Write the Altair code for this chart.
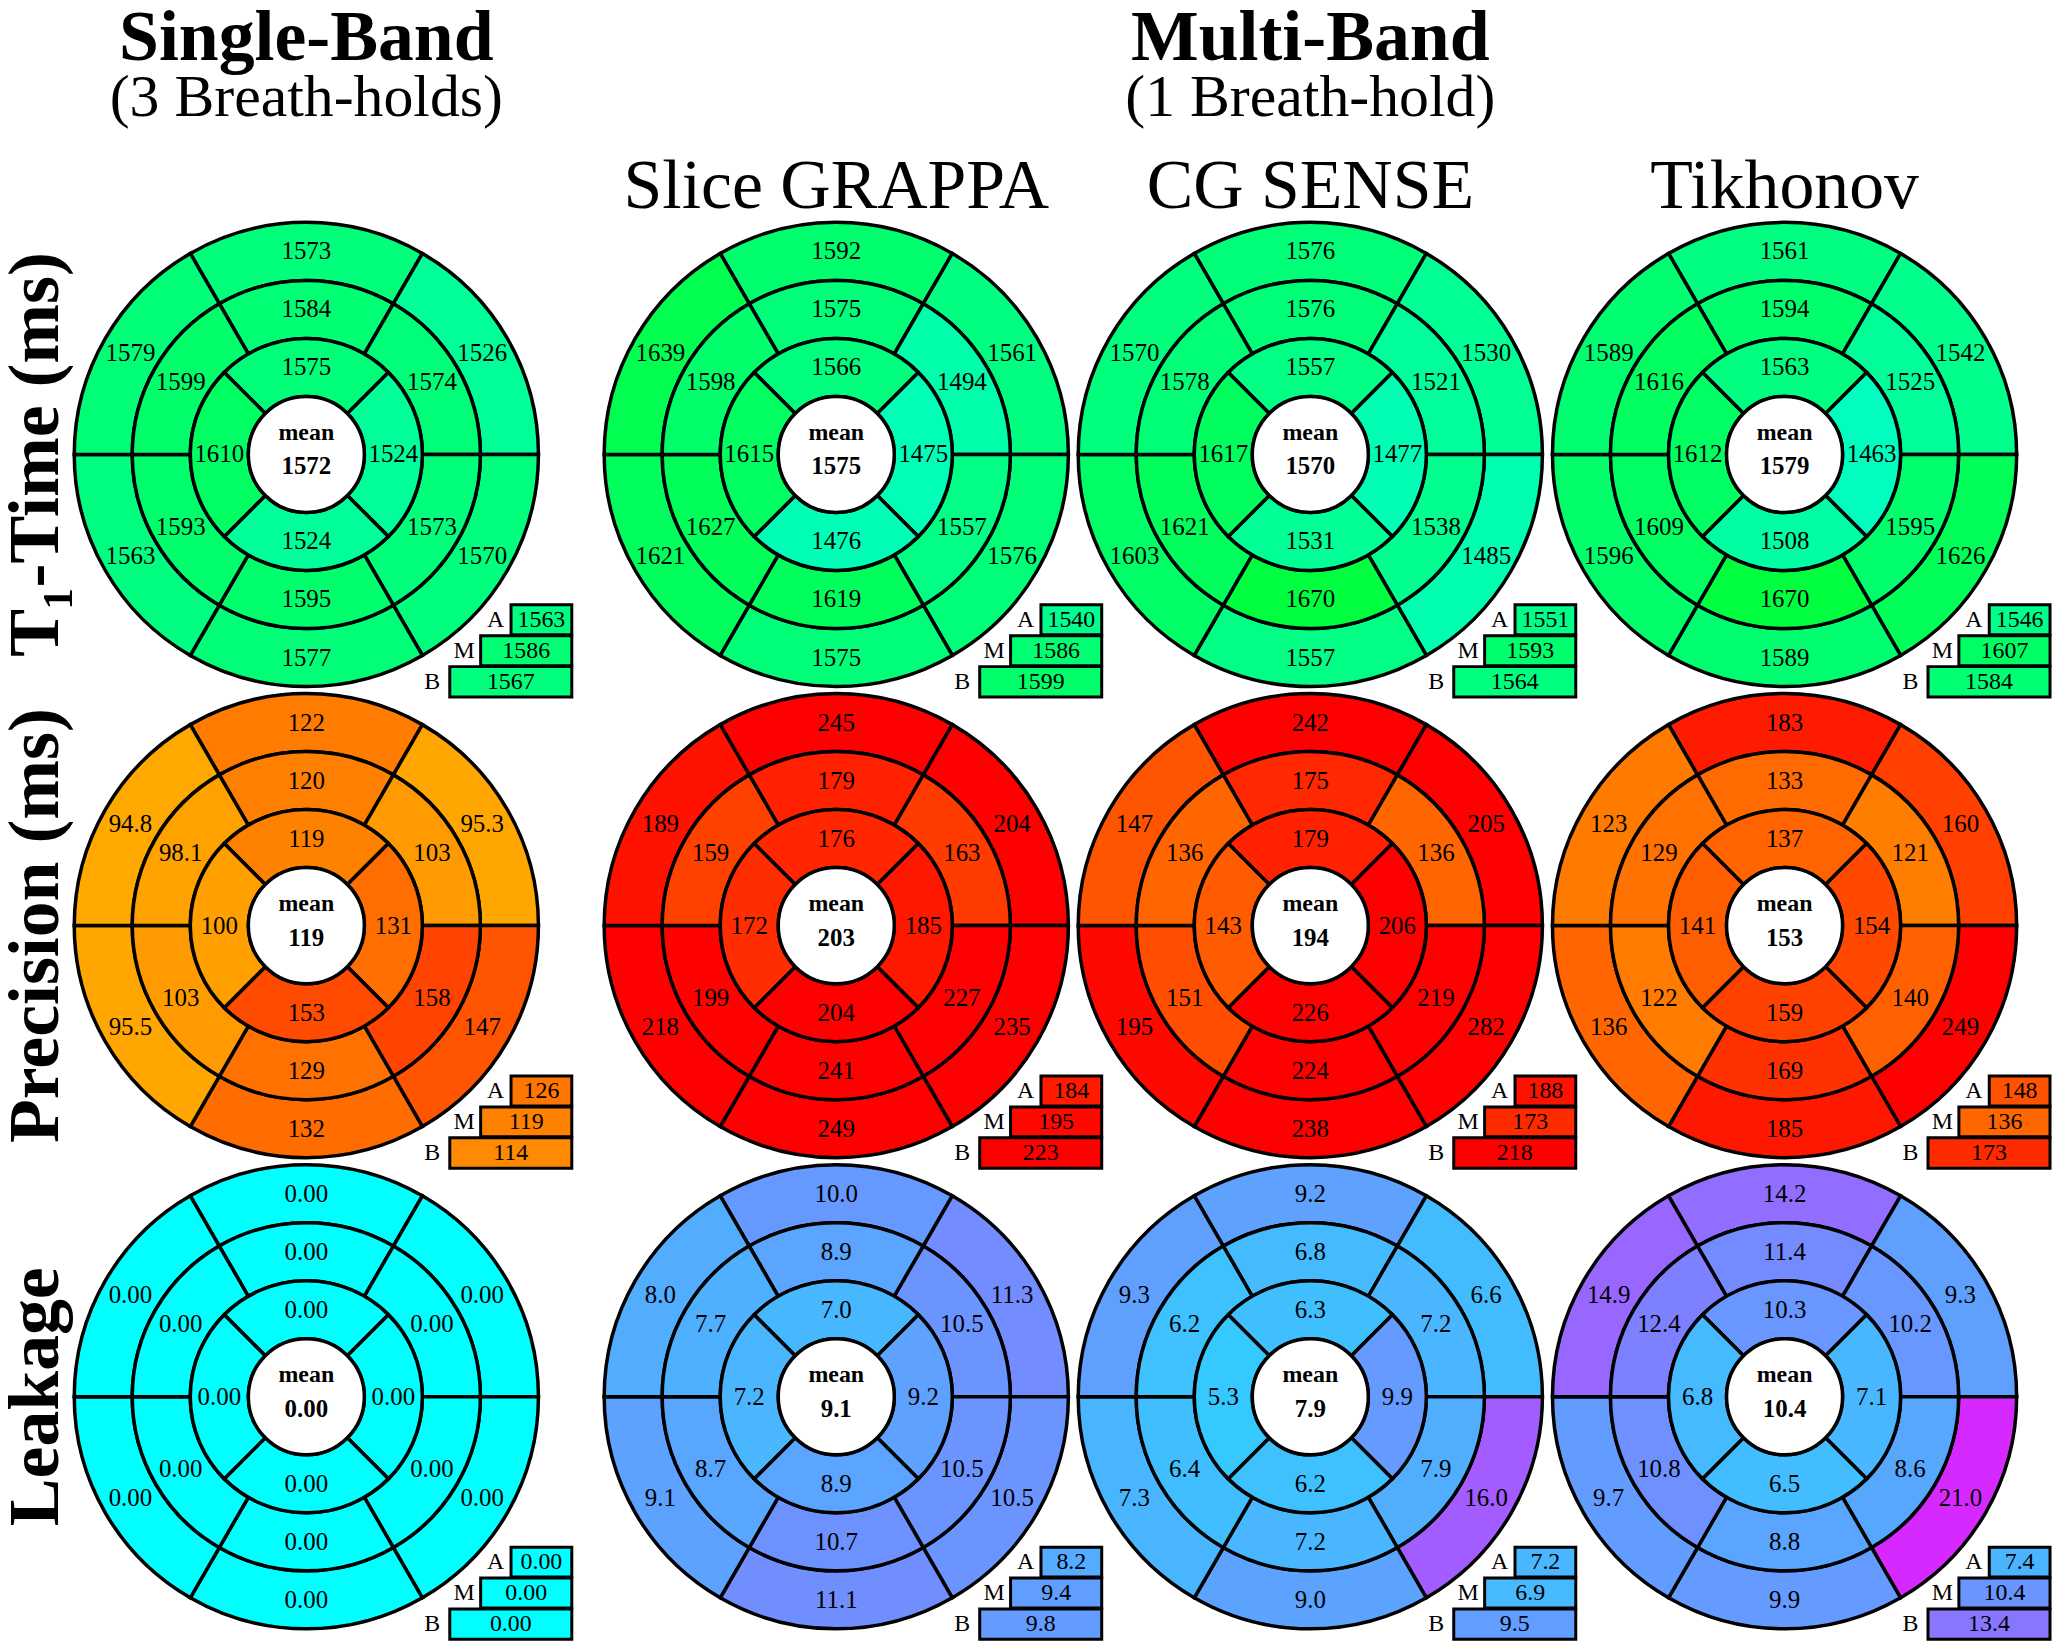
import altair as alt
import pandas as pd

# ---------------- data ----------------
METHODS = ["Single-Band", "Slice GRAPPA", "CG SENSE", "Tikhonov"]
METRICS = ["T\u2081-Time (ms)", "Precision (ms)", "Leakage"]
BOX_LETTERS = ["A", "M", "B"]

# segment order (clockwise from top): basal/mid = top, upper-right, lower-right, bottom, lower-left, upper-left
# apical = top, right, bottom, left
t1_basal = [
    [1573, 1526, 1570, 1577, 1563, 1579],
    [1592, 1561, 1576, 1575, 1621, 1639],
    [1576, 1530, 1485, 1557, 1603, 1570],
    [1561, 1542, 1626, 1589, 1596, 1589],
]
t1_mid = [
    [1584, 1574, 1573, 1595, 1593, 1599],
    [1575, 1494, 1557, 1619, 1627, 1598],
    [1576, 1521, 1538, 1670, 1621, 1578],
    [1594, 1525, 1595, 1670, 1609, 1616],
]
t1_apical = [
    [1575, 1524, 1524, 1610],
    [1566, 1475, 1476, 1615],
    [1557, 1477, 1531, 1617],
    [1563, 1463, 1508, 1612],
]
t1_mean = [1572, 1575, 1570, 1579]
t1_amb = [[1563, 1586, 1567], [1540, 1586, 1599], [1551, 1593, 1564], [1546, 1607, 1584]]

prec_basal = [
    [122, 95.3, 147, 132, 95.5, 94.8],
    [245, 204, 235, 249, 218, 189],
    [242, 205, 282, 238, 195, 147],
    [183, 160, 249, 185, 136, 123],
]
prec_mid = [
    [120, 103, 158, 129, 103, 98.1],
    [179, 163, 227, 241, 199, 159],
    [175, 136, 219, 224, 151, 136],
    [133, 121, 140, 169, 122, 129],
]
prec_apical = [
    [119, 131, 153, 100],
    [176, 185, 204, 172],
    [179, 206, 226, 143],
    [137, 154, 159, 141],
]
prec_mean = [119, 203, 194, 153]
prec_amb = [[126, 119, 114], [184, 195, 223], [188, 173, 218], [148, 136, 173]]

leak_basal = [
    [0, 0, 0, 0, 0, 0],
    [10.0, 11.3, 10.5, 11.1, 9.1, 8.0],
    [9.2, 6.6, 16.0, 9.0, 7.3, 9.3],
    [14.2, 9.3, 21.0, 9.9, 9.7, 14.9],
]
leak_mid = [
    [0, 0, 0, 0, 0, 0],
    [8.9, 10.5, 10.5, 10.7, 8.7, 7.7],
    [6.8, 7.2, 7.9, 7.2, 6.4, 6.2],
    [11.4, 10.2, 8.6, 8.8, 10.8, 12.4],
]
leak_apical = [
    [0, 0, 0, 0],
    [7.0, 9.2, 8.9, 7.2],
    [6.3, 9.9, 6.2, 5.3],
    [10.3, 7.1, 6.5, 6.8],
]
leak_mean = [0.0, 9.1, 7.9, 10.4]
leak_amb = [[0, 0, 0], [8.2, 9.4, 9.8], [7.2, 6.9, 9.5], [7.4, 10.4, 13.4]]

BASAL = [t1_basal, prec_basal, leak_basal]
MID = [t1_mid, prec_mid, leak_mid]
APICAL = [t1_apical, prec_apical, leak_apical]
MEANS = [t1_mean, prec_mean, leak_mean]
AMB = [t1_amb, prec_amb, leak_amb]


def fmt(m, v):
    if m == 0:
        return f"{v:.0f}"
    if m == 1:
        return f"{v:.3g}"
    return "0.00" if v == 0 else f"{v:.1f}"


seg_rows, panel_rows, box_rows = [], [], []
for m in range(3):
    for c in range(4):
        for ring, vals in ((2, BASAL[m][c]), (1, MID[m][c]), (0, APICAL[m][c])):
            n = len(vals)
            step = 360.0 / n
            for k, v in enumerate(vals):
                seg_rows.append(dict(metric=m, row=m, col=c,
                                     r0=ring + 1, r1=ring + 2, rm=ring + 1.5,
                                     t0=360 + k * step - step / 2, t1=360 + k * step + step / 2,
                                     tm=k * step, value=v, label=fmt(m, v)))
        panel_rows.append(dict(row=m, col=c, a0=0, a1=360, z0=0, z1=1,
                               mean=MEANS[m][c], meanlabel=fmt(m, MEANS[m][c])))
        for b, letter in enumerate(BOX_LETTERS):
            v = AMB[m][c][b]
            box_rows.append(dict(metric=m, row=m, col=c, box=letter, value=v, label=fmt(m, v)))

seg = pd.DataFrame(seg_rows)
panels = pd.DataFrame(panel_rows)
boxes = pd.DataFrame(box_rows)

top_titles = pd.DataFrame({"col": [0, 2], "text": ["Single-Band", "Multi-Band"]})
sub_titles = pd.DataFrame({"col": [0, 2], "text": ["(3 Breath-holds)", "(1 Breath-hold)"]})
col_titles = pd.DataFrame({"col": [1, 2, 3], "text": METHODS[1:]})
row_titles = pd.DataFrame({"row": [0, 1, 2], "text": METRICS})

# ---------------- scales / styles ----------------
FONT = "Liberation Serif"
XS = alt.Scale(domain=[0, 1, 2, 3], range=[299.5, 831.5, 1307.4, 1783.5], zero=False, nice=False)
YS = alt.Scale(domain=[0, 1, 2], range=[445, 918, 1391], zero=False, nice=False)
TS = alt.Scale(domain=[0, 360], range=[0, 6.283185307179586], zero=False, nice=False)
RS = alt.Scale(type="linear", domain=[0, 4], range=[0, 233], zero=False, nice=False)
CS = [
    alt.Scale(domain=[1450, 1700], range=["#00ffc6", "#00ff2b"], interpolate="rgb", clamp=True),
    alt.Scale(domain=[40, 200], range=["#ffff00", "#ff0000"], interpolate="rgb", clamp=True),
    alt.Scale(domain=[0, 25], range=["#00ffff", "#ff00ff"], interpolate="rgb", clamp=True),
]
SW = 3.5


def X():
    return alt.X("col:Q", scale=XS, axis=None)


def Y():
    return alt.Y("row:Q", scale=YS, axis=None)


layers = []

# segments
for m in range(3):
    layers.append(
        alt.Chart(seg[seg.metric == m]).mark_arc(stroke="black", strokeWidth=SW).encode(
            x=X(), y=Y(),
            theta=alt.Theta("t0:Q", scale=TS, stack=False), theta2="t1:Q",
            radius=alt.Radius("r1:Q", scale=RS), radius2="r0:Q",
            color=alt.Color("value:Q", scale=CS[m], legend=None),
        )
    )

# center white disc
layers.append(
    alt.Chart(panels).mark_arc(fill="white", stroke="black", strokeWidth=SW).encode(
        x=X(), y=Y(),
        theta=alt.Theta("a0:Q", scale=TS, stack=False), theta2="a1:Q",
        radius=alt.Radius("z1:Q", scale=RS), radius2="z0:Q",
    )
)

# A / M / B boxes
BOX_GEOM = {  # x0, x1, y0, y1 offsets from bullseye centre; letter x, y
    "A": (205.5, 266.5, 151, 181, 190, 166),
    "M": (175.0, 266.5, 182, 212, 158.5, 197),
    "B": (144.0, 266.5, 213, 243.5, 126.5, 228),
}
for m in range(3):
    for letter in BOX_LETTERS:
        gx0, gx1, gy0, gy1, lx, ly = BOX_GEOM[letter]
        d = boxes[(boxes.metric == m) & (boxes.box == letter)]
        layers.append(
            alt.Chart(d).mark_rect(stroke="black", strokeWidth=3,
                                   xOffset=gx0, x2Offset=gx1, yOffset=gy0, y2Offset=gy1).encode(
                x=X(), x2=alt.X2("col:Q"), y=Y(), y2=alt.Y2("row:Q"),
                color=alt.Color("value:Q", scale=CS[m], legend=None),
            )
        )
for letter in BOX_LETTERS:
    gx0, gx1, gy0, gy1, lx, ly = BOX_GEOM[letter]
    d = boxes[boxes.box == letter]
    layers.append(
        alt.Chart(d).mark_text(font=FONT, fontSize=24, color="black", align="center", baseline="middle",
                               dx=(gx0 + gx1) / 2, dy=(gy0 + gy1) / 2).encode(
            x=X(), y=Y(), text="label:N")
    )
    layers.append(
        alt.Chart(d).mark_text(font=FONT, fontSize=24, color="black", align="center", baseline="middle",
                               dx=lx, dy=ly).encode(
            x=X(), y=Y(), text="box:N")
    )

# segment labels
layers.append(
    alt.Chart(seg).mark_text(font=FONT, fontSize=25, color="black", align="center", baseline="middle").encode(
        x=X(), y=Y(),
        theta=alt.Theta("tm:Q", scale=TS, stack=False),
        radius=alt.Radius("rm:Q", scale=RS),
        text="label:N",
    )
)

# mean text
layers.append(
    alt.Chart(panels).mark_text(font=FONT, fontSize=24, fontWeight="bold", color="black",
                                align="center", baseline="alphabetic", dy=-15).encode(
        x=X(), y=Y(), text=alt.value("mean"))
)
layers.append(
    alt.Chart(panels).mark_text(font=FONT, fontSize=25, fontWeight="bold", color="black",
                                align="center", baseline="alphabetic", dy=20).encode(
        x=X(), y=Y(), text="meanlabel:N")
)

# titles
layers.append(
    alt.Chart(top_titles).mark_text(font=FONT, fontSize=72, fontWeight="bold", color="black",
                                    align="center", baseline="alphabetic").encode(
        x=X(), y=alt.value(49), text="text:N")
)
layers.append(
    alt.Chart(sub_titles).mark_text(font=FONT, fontSize=60, color="black",
                                    align="center", baseline="alphabetic").encode(
        x=X(), y=alt.value(105), text="text:N")
)
layers.append(
    alt.Chart(col_titles).mark_text(font=FONT, fontSize=70, color="black",
                                    align="center", baseline="alphabetic").encode(
        x=X(), y=alt.value(198), text="text:N")
)
layers.append(
    alt.Chart(row_titles).mark_text(font=FONT, fontSize=72, fontWeight="bold", color="black",
                                    align="center", baseline="alphabetic", angle=270).encode(
        x=alt.value(50), y=Y(), text="text:N")
)

chart = (
    alt.layer(*layers)
    .resolve_scale(color="independent")
    .properties(width=2055, height=1638, padding=0, autosize="none", background="white")
    .configure_view(strokeWidth=0)
)

chart.save("out.html", embed_options={"renderer": "svg", "actions": False})
